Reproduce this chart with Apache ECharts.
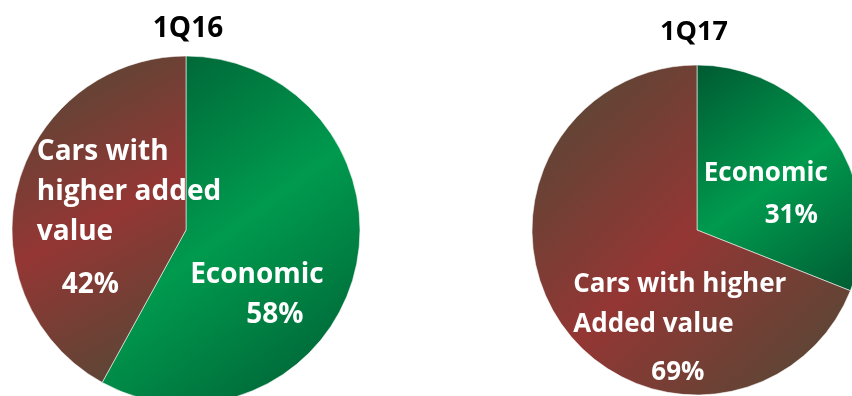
<!DOCTYPE html>
<html>
<head>
<meta charset="utf-8">
<script src="https://cdn.jsdelivr.net/npm/echarts@6/dist/echarts.min.js"></script>
<style>
  html, body { margin: 0; padding: 0; background: #ffffff; }
  #chart { width: 852px; height: 396px; }
</style>
</head>
<body>
<div id="chart"></div>
<script>
// Vehicle mix by segment, first quarter of each year
const periods = ['1Q16', '1Q17'];
const categories = ['Economic', 'Cars with higher added value'];
const values1Q16 = [58, 42];
const values1Q17 = [31, 69];
const sliceLabels1Q16 = ['Economic', 'Cars with\nhigher added\nvalue'];
const sliceLabels1Q17 = ['Economic', 'Cars with higher\nAdded value'];

const FONT = '"Open Sans", Lato, sans-serif';

// Slice shading: darker at both diagonal ends of each slice
function shade(main, dark) {
  return new echarts.graphic.LinearGradient(0, 0, 1, 1, [
    { offset: 0, color: dark },
    { offset: 0.5, color: main },
    { offset: 1, color: dark }
  ]);
}
const sliceFill = [shade('#009a4e', '#005a32'), shade('#943634', '#4e4a36')];

// Label placement per pie / slice: shift from the default inside anchor,
// font size, gap before the percentage and its indent
const labelStyle = [
  [ { dx: -83, dy: 3,   size: 28, pctLine: 40, pctIndent: 56 },
    { dx: -62, dy: -76, size: 28, pctLine: 66, pctIndent: 25 } ],
  [ { dx: -64, dy: -28, size: 26, pctLine: 44, pctIndent: 61 },
    { dx: -53, dy: -13, size: 26, pctLine: 56, pctIndent: 78 } ]
];

function buildData(values, texts, pieIndex) {
  return values.map((v, i) => {
    const st = labelStyle[pieIndex][i];
    return {
      name: categories[i],
      value: v,
      itemStyle: { color: sliceFill[i] },
      label: {
        formatter: () =>
          texts[i].split('\n').map(l => '{n|' + l + '}').join('\n') +
          '\n{p|' + v + '%}',
        rich: {
          n: { fontSize: st.size, lineHeight: 40, fontWeight: 'bold', color: '#ffffff', fontFamily: FONT },
          p: { fontSize: st.size, lineHeight: st.pctLine, fontWeight: 'bold', color: '#ffffff',
               fontFamily: FONT, padding: [0, 0, 0, st.pctIndent] }
        }
      }
    };
  });
}

function pieSeries(values, texts, pieIndex, center, radius) {
  return {
    type: 'pie',
    center: center,
    radius: radius,
    startAngle: 90,
    clockwise: true,
    silent: true,
    avoidLabelOverlap: false,
    itemStyle: { borderColor: 'rgba(255,255,255,0.7)', borderWidth: 0.8 },
    label: { show: true, position: 'inside', align: 'left' },
    labelLine: { show: false },
    labelLayout: (params) => {
      const st = labelStyle[pieIndex][params.dataIndex];
      return { dx: st.dx, dy: st.dy, align: 'left', verticalAlign: 'top' };
    },
    data: buildData(values, texts, pieIndex)
  };
}

const chart = echarts.init(document.getElementById('chart'), null, { renderer: 'canvas' });
chart.setOption({
  animation: false,
  backgroundColor: '#ffffff',
  title: [
    { text: periods[0], left: 183, top: 10, textAlign: 'center',
      textStyle: { fontFamily: FONT, fontSize: 28, fontWeight: 'bold', color: '#000000' } },
    { text: periods[1], left: 689, top: 14, textAlign: 'center',
      textStyle: { fontFamily: FONT, fontSize: 27, fontWeight: 'bold', color: '#000000' } }
  ],
  series: [
    pieSeries(values1Q16, sliceLabels1Q16, 0, [186, 230], 174),
    pieSeries(values1Q17, sliceLabels1Q17, 1, [697, 230], 165)
  ]
});
</script>
</body>
</html>
